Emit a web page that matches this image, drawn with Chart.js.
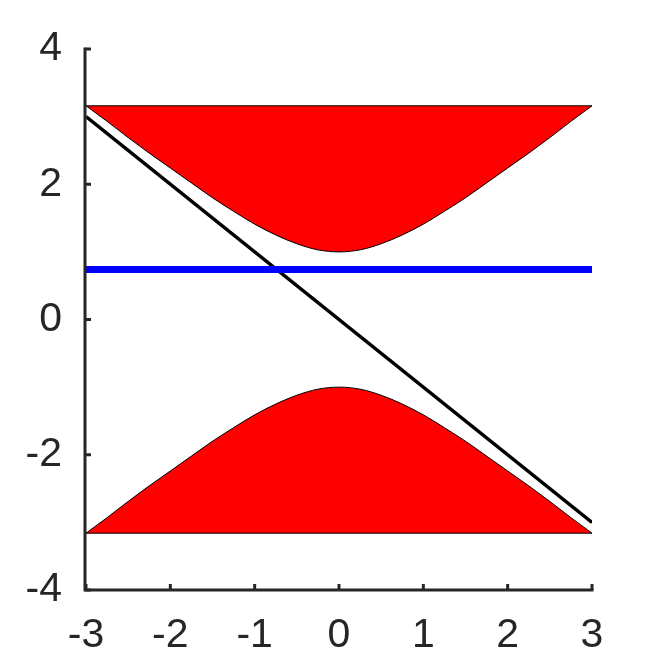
<!DOCTYPE html>
<html>
<head>
<meta charset="utf-8">
<script src="https://cdn.jsdelivr.net/npm/chart.js@4/dist/chart.umd.min.js"></script>
<style>
  html, body { margin: 0; padding: 0; background: #ffffff; }
  #wrap { width: 653px; height: 664px; position: relative; }
</style>
</head>
<body>
<div id="wrap"><canvas id="c" width="653" height="664"></canvas></div>
<script>
// ---- data ----
const xs         = [-3, -2.75, -2.5, -2.25, -2, -1.75, -1.5, -1.25, -1, -0.75, -0.5, -0.25, 0, 0.25, 0.5, 0.75, 1, 1.25, 1.5, 1.75, 2, 2.25, 2.5, 2.75, 3];
const upperCurve = [3.16, 2.93, 2.69, 2.46, 2.24, 2.02, 1.80, 1.60, 1.41, 1.25, 1.12, 1.03, 1.00, 1.03, 1.12, 1.25, 1.41, 1.60, 1.80, 2.02, 2.24, 2.46, 2.69, 2.93, 3.16];
const lowerCurve = [-3.16, -2.93, -2.69, -2.46, -2.24, -2.02, -1.80, -1.60, -1.41, -1.25, -1.12, -1.03, -1.00, -1.03, -1.12, -1.25, -1.41, -1.60, -1.80, -2.02, -2.24, -2.46, -2.69, -2.93, -3.16];
const bandTop    = 3.16;
const bandBottom = -3.16;
const diagX      = [-3, 3];
const diagY      = [3, -3];
const flatX      = [-3, 3];
const flatY      = [0.74, 0.74];
const xTicks     = [-3, -2, -1, 0, 1, 2, 3];
const yTicks     = [-4, -2, 0, 2, 4];

const pts = (X, Y) => X.map((x, i) => ({ x: x, y: Y[i] }));
const AX = '#262626';

const axesPlugin = {
  id: 'octaveAxes',
  afterDatasetsDraw(chart) {
    const ctx = chart.ctx;
    const xs_ = chart.scales.x, ys_ = chart.scales.y;
    const L = xs_.getPixelForValue(-3) - 1, B = ys_.getPixelForValue(-4);
    const T = ys_.getPixelForValue(4), R = xs_.getPixelForValue(3);
    ctx.save();
    ctx.strokeStyle = AX;
    ctx.lineWidth = 3;
    ctx.lineCap = 'square';
    ctx.beginPath();
    ctx.moveTo(L, T); ctx.lineTo(L, B); ctx.lineTo(R, B);
    ctx.stroke();
    ctx.lineCap = 'butt';
    xTicks.forEach(v => {
      const px = xs_.getPixelForValue(v);
      ctx.beginPath(); ctx.moveTo(px, B); ctx.lineTo(px, B - 6); ctx.stroke();
    });
    yTicks.forEach(v => {
      const py = ys_.getPixelForValue(v);
      ctx.beginPath(); ctx.moveTo(L, py); ctx.lineTo(L + 6, py); ctx.stroke();
    });
    ctx.restore();
  }
};

new Chart(document.getElementById('c'), {
  type: 'line',
  data: {
    datasets: [
      { data: pts(flatX, flatY), borderColor: '#0000ff', borderWidth: 7, pointRadius: 0, fill: false, order: 0 },
      { data: pts(diagX, diagY), borderColor: '#000000', borderWidth: 3.5, pointRadius: 0, fill: false, order: 1 },
      { data: pts(xs, upperCurve), borderColor: '#000000', borderWidth: 1, backgroundColor: '#ff0000',
        pointRadius: 0, cubicInterpolationMode: 'monotone', fill: { value: bandTop }, order: 2 },
      { data: pts(xs, lowerCurve), borderColor: '#000000', borderWidth: 1, backgroundColor: '#ff0000',
        pointRadius: 0, cubicInterpolationMode: 'monotone', fill: { value: bandBottom }, order: 2 },
      { data: pts(flatX, [bandTop, bandTop]), borderColor: '#000000', borderWidth: 1, pointRadius: 0, fill: false, order: 1 },
      { data: pts(flatX, [bandBottom, bandBottom]), borderColor: '#000000', borderWidth: 1, pointRadius: 0, fill: false, order: 1 }
    ]
  },
  options: {
    responsive: false,
    animation: false,
    events: [],
    layout: { padding: { top: 49, right: 61, left: 0, bottom: 0 } },
    plugins: { legend: { display: false }, tooltip: { enabled: false } },
    scales: {
      x: {
        type: 'linear', min: -3, max: 3,
        grid: { display: false, drawTicks: false },
        border: { display: false },
        afterFit: s => { s.height = 74; },
        afterBuildTicks: s => { s.ticks = xTicks.map(v => ({ value: v })); },
        ticks: { font: { family: 'Liberation Sans', size: 41 }, color: AX, padding: 21, maxRotation: 0, autoSkip: false }
      },
      y: {
        type: 'linear', min: -4, max: 4,
        grid: { display: false, drawTicks: false },
        border: { display: false },
        afterFit: s => { s.width = 86; },
        afterBuildTicks: s => { s.ticks = yTicks.map(v => ({ value: v })); },
        ticks: { font: { family: 'Liberation Sans', size: 41 }, color: AX, padding: 24, autoSkip: false }
      }
    }
  },
  plugins: [axesPlugin]
});
</script>
</body>
</html>
